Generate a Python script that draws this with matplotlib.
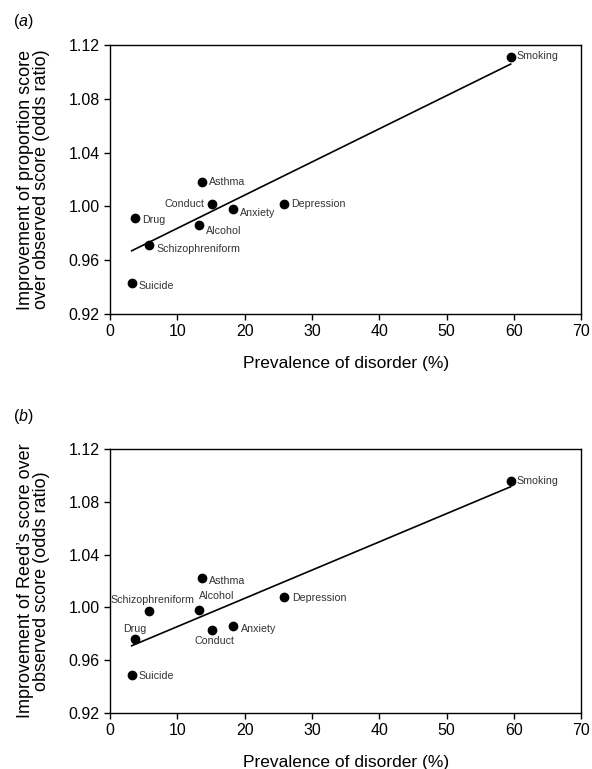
import numpy as np
import matplotlib.pyplot as plt

plt.rcParams["font.family"] = ["Liberation Sans", "DejaVu Sans"]
plt.rcParams["mathtext.fontset"] = "custom"
plt.rcParams["mathtext.rm"] = "Liberation Sans"
plt.rcParams["mathtext.it"] = "Liberation Sans:italic"

# ----------------------------
# Data
# ----------------------------
disorders = ["Smoking", "Asthma", "Conduct", "Anxiety", "Depression",
             "Drug", "Alcohol", "Schizophreniform", "Suicide"]
prevalence = [59.5, 13.7, 15.1, 18.2, 25.8, 3.7, 13.2, 5.8, 3.2]
or_proportion = [1.111, 1.018, 1.002, 0.998, 1.002, 0.991, 0.986, 0.971, 0.943]
or_reed = [1.096, 1.022, 0.983, 0.986, 1.008, 0.976, 0.998, 0.997, 0.949]

# label placement: (dx, dy) in points, ha, va
labels_a = {
    "Smoking": ((4, 1), "left", "center"),
    "Asthma": ((5, 0), "left", "center"),
    "Conduct": ((-5, 0), "right", "center"),
    "Anxiety": ((5, -3), "left", "center"),
    "Depression": ((5, 0), "left", "center"),
    "Drug": ((5, -1), "left", "center"),
    "Alcohol": ((5, -4), "left", "center"),
    "Schizophreniform": ((5, -3), "left", "center"),
    "Suicide": ((5, -2), "left", "center"),
}
labels_b = {
    "Smoking": ((4, 0), "left", "center"),
    "Asthma": ((5, -2), "left", "center"),
    "Conduct": ((2, -8), "center", "center"),
    "Anxiety": ((6, -2), "left", "center"),
    "Depression": ((6, -1), "left", "center"),
    "Drug": ((0, 7), "center", "center"),
    "Alcohol": ((0, 10), "left", "center"),
    "Schizophreniform": ((2, 8), "center", "center"),
    "Suicide": ((5, -1), "left", "center"),
}

fig = plt.figure(figsize=(5.92, 7.69), dpi=100)
ax_a = fig.add_axes([0.186, 0.592, 0.796, 0.349])
ax_b = fig.add_axes([0.186, 0.073, 0.796, 0.343])


def draw_panel(ax, y, labels, ylabel):
    x = np.array(prevalence)
    y = np.array(y)
    ax.scatter(x, y, s=36, color="black", zorder=3)

    # regression line
    slope, intercept = np.polyfit(x, y, 1)
    xs = np.array([x.min(), x.max()])
    ax.plot(xs, slope * xs + intercept, color="black", lw=1.2)

    for name, xi, yi in zip(disorders, x, y):
        (dx, dy), ha, va = labels[name]
        ax.annotate(name, (xi, yi), xytext=(dx, dy),
                    textcoords="offset points", ha=ha, va=va,
                    fontsize=7.7, color="#333333")

    ax.set_xlim(0, 70)
    ax.set_ylim(0.92, 1.12)
    ax.set_xticks(np.arange(0, 71, 10))
    ax.set_yticks([0.92, 0.96, 1.00, 1.04, 1.08, 1.12])
    ax.set_yticklabels(["0.92", "0.96", "1.00", "1.04", "1.08", "1.12"])
    ax.tick_params(direction="out", length=4, width=1, labelsize=11.5,
                   top=False, right=False, colors="black")
    for sp in ax.spines.values():
        sp.set_linewidth(1)
    ax.set_xlabel("Prevalence of disorder (%)", fontsize=12.5, labelpad=12)
    ax.set_ylabel(ylabel, fontsize=13, labelpad=13, linespacing=0.95)


draw_panel(ax_a, or_proportion, labels_a,
           "Improvement of proportion score\nover observed score (odds ratio)")
draw_panel(ax_b, or_reed, labels_b,
           "Improvement of Reed\u2019s score over\nobserved score (odds ratio)")

fig.text(0.022, 0.984, r"($\it{a}$)", fontsize=11.5, va="top")
fig.text(0.022, 0.471, r"($\it{b}$)", fontsize=11.5, va="top")

fig.savefig("out.png", dpi=100)
plt.close(fig)
